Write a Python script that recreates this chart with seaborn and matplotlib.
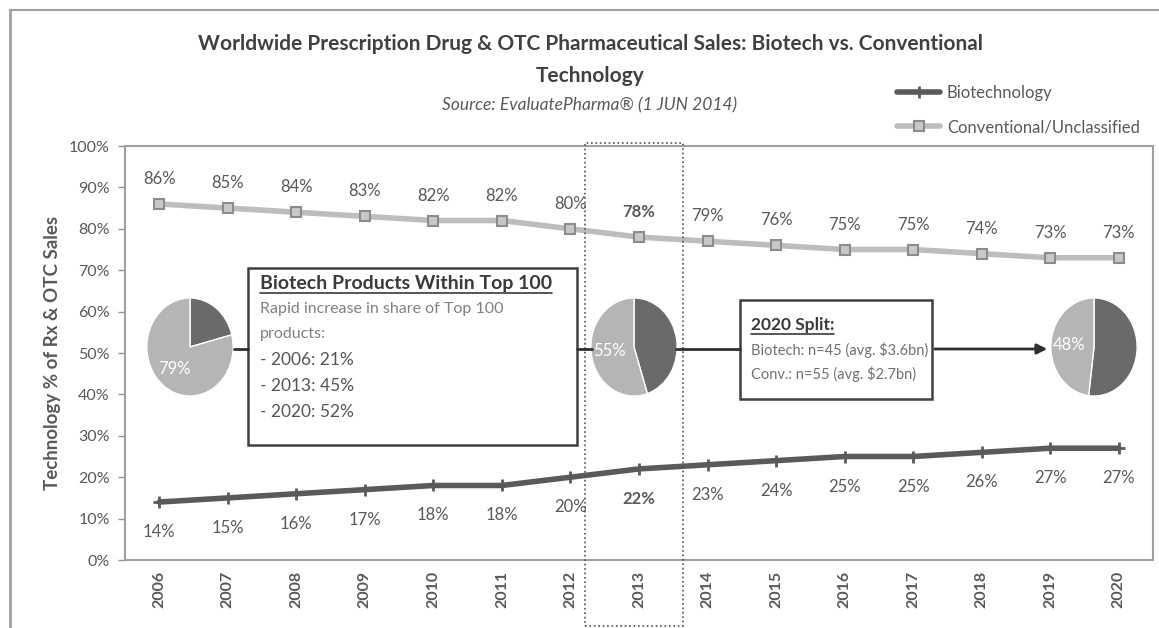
import numpy as np
import pandas as pd
import matplotlib
matplotlib.use("Agg")
import matplotlib.pyplot as plt
import seaborn as sns
from matplotlib.patches import Rectangle
from matplotlib.lines import Line2D

# data
years = [2006, 2007, 2008, 2009, 2010, 2011, 2012, 2013, 2014, 2015, 2016, 2017, 2018, 2019, 2020]
biotech = [14, 15, 16, 17, 18, 18, 20, 22, 23, 24, 25, 25, 26, 27, 27]
conventional = [86, 85, 84, 83, 82, 82, 80, 78, 77, 76, 75, 75, 74, 73, 73]
conv_labels = [86, 85, 84, 83, 82, 82, 80, 78, 79, 76, 75, 75, 74, 73, 73]

pie_years = [2006, 2013, 2020]
top100_biotech = [21, 45, 52]
split_n = {"Biotech": 45, "Conv.": 55}
split_avg = {"Biotech": 3.6, "Conv.": 2.7}

W, H = 1159, 628
DARK = "#5a5a5a"
LIGHT = "#bdbdbd"
TXT = "#595959"

sns.set_theme(style="white")
plt.rcParams["font.family"] = ["Lato", "DejaVu Sans"]


def fx(x):
    return x / W


def fy(y):
    return 1 - y / H


fig = plt.figure(figsize=(W / 100, H / 100), dpi=100)
ax = fig.add_axes([fx(125), fy(560), fx(1153) - fx(125), fy(146) - fy(560)])

pos = np.arange(len(years))
df = pd.DataFrame({"pos": np.concatenate([pos, pos]),
                   "share": biotech + conventional,
                   "series": ["Biotechnology"] * len(years) + ["Conventional/Unclassified"] * len(years)})

sns.lineplot(data=df[df.series == "Biotechnology"], x="pos", y="share", ax=ax,
             color=DARK, lw=4, marker="+", markersize=9, mew=2, mec=DARK, label="Biotechnology")
sns.lineplot(data=df[df.series == "Conventional/Unclassified"], x="pos", y="share", ax=ax,
             color=LIGHT, lw=4, marker="s", markersize=7, mew=1.5, mfc="#c8c8c8", mec="#8c8c8c",
             label="Conventional/Unclassified")

for i, (b, c, cl) in enumerate(zip(biotech, conventional, conv_labels)):
    wt = "bold" if years[i] == 2013 else "normal"
    ax.annotate(f"{cl}%", (i, c), xytext=(0, 25), textcoords="offset pixels",
                ha="center", va="center", fontsize=12, color=TXT, fontweight=wt)
    ax.annotate(f"{b}%", (i, b), xytext=(0, -30), textcoords="offset pixels",
                ha="center", va="center", fontsize=12, color=TXT, fontweight=wt)

ax.set_xlim(-0.5, len(years) - 0.5)
ax.set_ylim(0, 100)
ax.set_yticks(np.arange(0, 101, 10))
ax.set_yticklabels([f"{v}%" for v in range(0, 101, 10)], color=TXT, fontsize=11.5)
ax.set_xticks(pos)
ax.set_xticklabels([str(y) for y in years], rotation=90, fontweight="bold", color=TXT, fontsize=11.5)
ax.set_xticks(np.arange(-0.5, len(years)), minor=True)
ax.tick_params(axis="x", which="major", length=0, pad=8)
ax.tick_params(axis="x", which="minor", length=5, width=1, color="#909090", direction="out")
ax.tick_params(axis="y", length=5, width=1, color="#909090", direction="out", left=True, pad=6)
ax.set_xlabel("")
ax.set_ylabel("Technology % of Rx & OTC Sales", fontweight="bold", color=TXT, fontsize=13.5, labelpad=6)
for s in ax.spines.values():
    s.set_color("#a0a0a0")
    s.set_linewidth(1.5)

ax.legend(loc="upper left", bbox_to_anchor=(fx(882), fy(70)), bbox_transform=fig.transFigure,
          frameon=False, fontsize=12, handlelength=2.6, labelspacing=1.1, labelcolor=TXT,
          handletextpad=0.4)

# titles
fig.text(fx(590), fy(44), "Worldwide Prescription Drug & OTC Pharmaceutical Sales: Biotech vs. Conventional",
         ha="center", va="center", fontsize=15, fontweight="bold", color="#404040")
fig.text(fx(590), fy(76), "Technology", ha="center", va="center", fontsize=15, fontweight="bold", color="#404040")
fig.text(fx(590), fy(105), "Source: EvaluatePharma® (1 JUN 2014)", ha="center", va="center",
         fontsize=12.5, style="italic", color=TXT)

# outer frame
fig.add_artist(Line2D([fx(10), fx(10)], [fy(10), 0], color="#a0a0a0", lw=2))
fig.add_artist(Line2D([fx(10), 1], [fy(10), fy(10)], color="#a0a0a0", lw=1.5))

# dotted highlight around 2013
fig.add_artist(Rectangle((fx(585), fy(626)), fx(683) - fx(585), fy(143) - fy(626),
                         transform=fig.transFigure, fill=False, ec="#505050", lw=1.2, ls=":"))

# connector lines / arrow
cy = 349
for x0, x1 in [(234, 248), (577, 592), (676, 740)]:
    fig.add_artist(Line2D([fx(x0), fx(x1)], [fy(cy), fy(cy)], color="#303030", lw=2))
ax.annotate("", xy=(fx(1050), fy(cy)), xytext=(fx(932), fy(cy)), xycoords="figure fraction",
            arrowprops=dict(arrowstyle="-|>", color="#303030", lw=2, mutation_scale=15))

# pies
pie_cx = [190, 634, 1094]
for cx, share in zip(pie_cx, top100_biotech):
    pax = fig.add_axes([fx(cx - 44), fy(347 + 50), 88 / W, 100 / H])
    wedges, texts, autos = pax.pie([share, 100 - share], colors=["#6a6a6a", "#b5b5b5"], startangle=90,
                                   counterclock=False, autopct="%d%%", pctdistance=0.58,
                                   textprops=dict(color="white", fontsize=12))
    autos[0].set_visible(False)
    pax.set_aspect("auto")
    pax.set_xlim(-1.02, 1.02)
    pax.set_ylim(-1.02, 1.02)

renderer = fig.canvas.get_renderer()


def underlined(x, y, s, size):
    t = fig.text(fx(x), fy(y), s, ha="left", va="center", fontsize=size, fontweight="bold", color="#3a3a3a")
    bb = t.get_window_extent(renderer).transformed(fig.transFigure.inverted())
    fig.add_artist(Line2D([bb.x0, bb.x1], [bb.y0 - 0.002, bb.y0 - 0.002], color="#3a3a3a", lw=1.2))


# box 1
fig.add_artist(Rectangle((fx(248), fy(445)), fx(577) - fx(248), fy(268) - fy(445),
                         transform=fig.transFigure, fc="white", ec="#404040", lw=1.8))
underlined(260, 283, "Biotech Products Within Top 100", 14)
fig.text(fx(260), fy(309), "Rapid increase in share of Top 100", va="center", fontsize=11.5, color="#808080")
fig.text(fx(260), fy(334), "products:", va="center", fontsize=11.5, color="#808080")
for k, (yr, sh) in enumerate(zip(pie_years, top100_biotech)):
    fig.text(fx(260), fy(360 + 26 * k), f"- {yr}: {sh}%", va="center", fontsize=12.5, color="#555555")

# box 2
fig.add_artist(Rectangle((fx(740), fy(399)), fx(932) - fx(740), fy(300) - fy(399),
                         transform=fig.transFigure, fc="white", ec="#404040", lw=1.8))
underlined(751, 325, "2020 Split:", 12.5)
for k, name in enumerate(split_n):
    fig.text(fx(751), fy(350 + 24 * k), f"{name}: n={split_n[name]} (avg. ${split_avg[name]}bn)",
             va="center", fontsize=10.5, color="#707070", parse_math=False)

fig.savefig("out.png", dpi=100)
